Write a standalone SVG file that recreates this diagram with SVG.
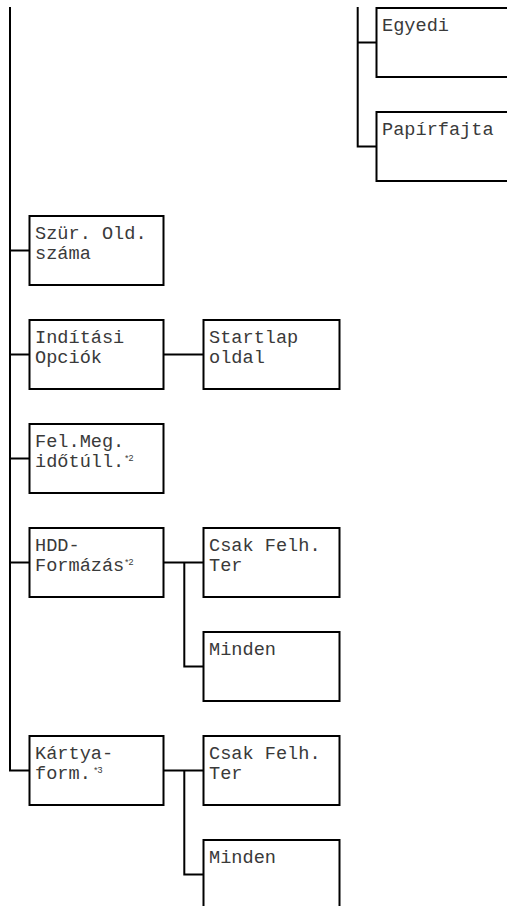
<svg xmlns="http://www.w3.org/2000/svg" width="507" height="906" viewBox="0 0 507 906">
<style>
.box{fill:#fff;stroke:#000;stroke-width:2}
.ln{fill:none;stroke:#000;stroke-width:2}
.t{font-family:"Liberation Mono","DejaVu Sans Mono",monospace;font-size:18.6px;fill:#3a3a3a}
.s{font-family:"Liberation Sans","DejaVu Sans",sans-serif;font-size:9px;fill:#3a3a3a}
</style>
<rect width="507" height="906" fill="#fff"/>
<g id="connectors">
<path class="ln" d="M10,7 V770.5 H29.5"/>
<path class="ln" d="M10,250.5 H29.5"/>
<path class="ln" d="M10,354.5 H29.5"/>
<path class="ln" d="M10,458.5 H29.5"/>
<path class="ln" d="M10,562.5 H29.5"/>
<path class="ln" d="M163.5,354.5 H203.5"/>
<path class="ln" d="M163.5,562.5 H203.5"/>
<path class="ln" d="M184.3,562.5 V666.5 H203.5"/>
<path class="ln" d="M163.5,770.5 H203.5"/>
<path class="ln" d="M184.3,770.5 V874.5 H203.5"/>
<path class="ln" d="M357.7,7 V146.5 H376.5"/>
<path class="ln" d="M357.7,42.5 H376.5"/>
</g>
<g id="egyedi">
<rect class="box" x="376.5" y="8" width="136" height="69"/>
<text class="t" x="382" y="31">Egyedi</text>
</g>
<g id="papirfajta">
<rect class="box" x="376.5" y="112" width="136" height="69"/>
<text class="t" x="382" y="135">Papírfajta</text>
</g>
<g id="szur-old-szama">
<rect class="box" x="29.5" y="216" width="134" height="69"/>
<text class="t" x="35" y="239.3">Szür. Old.</text>
<text class="t" x="35" y="259.3">száma</text>
</g>
<g id="inditasi-opciok">
<rect class="box" x="29.5" y="320" width="134" height="69"/>
<text class="t" x="35" y="343.3">Indítási</text>
<text class="t" x="35" y="363.3">Opciók</text>
</g>
<g id="startlap-oldal">
<rect class="box" x="203.5" y="320" width="136" height="69"/>
<text class="t" x="209" y="343.3">Startlap</text>
<text class="t" x="209" y="363.3">oldal</text>
</g>
<g id="fel-meg-idotull">
<rect class="box" x="29.5" y="424" width="134" height="69"/>
<text class="t" x="35" y="447.3">Fel.Meg.</text>
<text class="t" x="35" y="467.3">időtúll.</text>
<text class="s" x="125" y="461">*2</text>
</g>
<g id="hdd-formazas">
<rect class="box" x="29.5" y="528" width="134" height="69"/>
<text class="t" x="35" y="551.3">HDD-</text>
<text class="t" x="35" y="571.3">Formázás</text>
<text class="s" x="125" y="565">*2</text>
</g>
<g id="hdd-csak-felh-ter">
<rect class="box" x="203.5" y="528" width="136" height="69"/>
<text class="t" x="209" y="551.3">Csak Felh.</text>
<text class="t" x="209" y="571.3">Ter</text>
</g>
<g id="hdd-minden">
<rect class="box" x="203.5" y="632" width="136" height="69"/>
<text class="t" x="209" y="655.3">Minden</text>
</g>
<g id="kartya-form">
<rect class="box" x="29.5" y="736" width="134" height="69"/>
<text class="t" x="35" y="759.3">Kártya-</text>
<text class="t" x="35" y="779.3">form.</text>
<text class="s" x="94" y="773">*3</text>
</g>
<g id="kartya-csak-felh-ter">
<rect class="box" x="203.5" y="736" width="136" height="69"/>
<text class="t" x="209" y="759.3">Csak Felh.</text>
<text class="t" x="209" y="779.3">Ter</text>
</g>
<g id="kartya-minden">
<rect class="box" x="203.5" y="840" width="136" height="69"/>
<text class="t" x="209" y="863.3">Minden</text>
</g>
</svg>
